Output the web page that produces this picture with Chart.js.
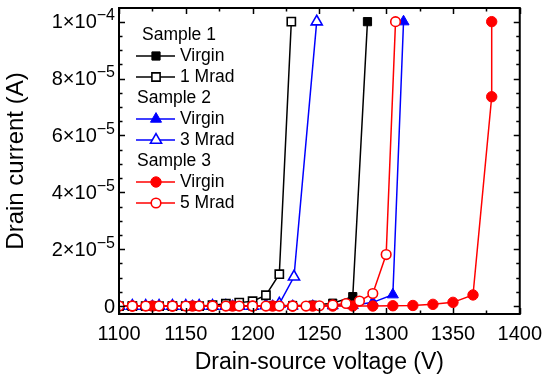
<!DOCTYPE html>
<html>
<head>
<meta charset="utf-8">
<script src="https://cdn.jsdelivr.net/npm/chart.js@4.4.1/dist/chart.umd.min.js"></script>
<style>
  html, body { margin: 0; padding: 0; background: #fff; }
  #wrap { width: 550px; height: 388px; }
</style>
</head>
<body>
<div id="wrap"><canvas id="ivChart" width="550" height="388"></canvas></div>
<script>
// axis ticks
const xTicks = [1100, 1150, 1200, 1250, 1300, 1350, 1400];
const yTicks = [0, 2e-5, 4e-5, 6e-5, 8e-5, 1e-4];
const yTickLabels = ['0', '2×10^−5', '4×10^−5', '6×10^−5', '8×10^−5', '1×10^−4'];

// Sample 1
const s1VirginV = [1110, 1125, 1140, 1155, 1170, 1185, 1200, 1215, 1230, 1245, 1260, 1275, 1286];
const s1VirginI = [0, 0, 0, 0, 0, 0, 0, 0.1e-6, 0.2e-6, 0.3e-6, 1.0e-6, 3.3e-6, 1e-4];
const s1MradV = [1100, 1110, 1120, 1130, 1140, 1150, 1160, 1170, 1180, 1190, 1200, 1210, 1220, 1229];
const s1MradI = [0, 0, 0, 0, 0, 0, 0, 0.3e-6, 0.8e-6, 1.2e-6, 1.7e-6, 3.8e-6, 1.12e-5, 1e-4];

// Sample 2
const s2VirginV = [1110, 1125, 1140, 1155, 1170, 1185, 1200, 1215, 1230, 1245, 1260, 1275, 1290, 1305, 1313];
const s2VirginI = [0, 0, 0, 0, 0, 0, 0, 0, 0, 0, 0.1e-6, 0.2e-6, 1.3e-6, 4.0e-6, 1e-4];
const s2MradV = [1100, 1110, 1120, 1130, 1140, 1150, 1160, 1170, 1180, 1190, 1200, 1210, 1220, 1231, 1248];
const s2MradI = [0, 0, 0, 0, 0, 0, 0, 0, 0, 0, 0, 0.2e-6, 0.8e-6, 1.03e-5, 1e-4];

// Sample 3
const s3VirginV = [1110, 1125, 1140, 1155, 1170, 1185, 1200, 1215, 1230, 1245, 1260, 1275, 1290, 1305, 1320, 1335, 1350, 1365, 1379, 1379];
const s3VirginI = [0, 0, 0, 0, 0, 0, 0, 0, 0, 0, 0, 0, 0, 0.1e-6, 0.2e-6, 0.6e-6, 1.3e-6, 3.9e-6, 7.36e-5, 1e-4];
const s3MradV = [1100, 1110, 1120, 1130, 1140, 1150, 1160, 1170, 1180, 1190, 1200, 1210, 1220, 1230, 1240, 1250, 1260, 1270, 1280, 1290, 1300, 1307];
const s3MradI = [0, 0, 0, 0, 0, 0, 0, 0, 0, 0, 0, 0, 0, 0, 0, 0.1e-6, 0.4e-6, 0.9e-6, 1.75e-6, 4.4e-6, 1.81e-5, 1e-4];

// legend groups
const legendGroups = ['Sample 1', 'Sample 2', 'Sample 3'];
const legendLabels = [['Virgin', '1 Mrad'], ['Virgin', '3 Mrad'], ['Virgin', '5 Mrad']];

const FONT = "'Liberation Sans', Arial, sans-serif";

function pts(xs, ys) {
    return xs.map((x, i) => ({ x: x, y: ys[i] }));
}

function series(label, xs, ys, color, style, open, order) {
    return {
        label: label,
        data: pts(xs, ys),
        borderColor: color,
        borderWidth: 1.5,
        pointStyle: style,
        pointRadius: style === 'circle' ? (open ? 4.8 : 5.2) : (style === 'rect' ? 5.8 : 6.4),
        pointBackgroundColor: open ? '#fff' : color,
        pointBorderColor: color,
        pointBorderWidth: open ? 1.6 : 1,
        tension: 0,
        clip: 0,
        order: order
    };
}

const datasets = [
    series('Sample 1 Virgin', s1VirginV, s1VirginI, '#000000', 'rect', false, 2),
    series('Sample 1 1 Mrad', s1MradV, s1MradI, '#000000', 'rect', true, 3),
    series('Sample 2 Virgin', s2VirginV, s2VirginI, '#0000ff', 'triangle', false, 4),
    series('Sample 2 3 Mrad', s2MradV, s2MradI, '#0000ff', 'triangle', true, 5),
    series('Sample 3 Virgin', s3VirginV, s3VirginI, '#ff0000', 'circle', false, 1),
    series('Sample 3 5 Mrad', s3MradV, s3MradI, '#ff0000', 'circle', true, 0)
];

const framePlugin = {
    id: 'frameTicks',
    afterDatasetsDraw: function (chart) {
        const ctx = chart.ctx;
        const a = chart.chartArea;
        const xs = chart.scales.x;
        const ys = chart.scales.y;
        ctx.save();
        ctx.strokeStyle = '#000';
        ctx.lineWidth = 2;
        ctx.strokeRect(a.left, a.top, a.right - a.left, a.bottom - a.top);

        // inward ticks, x every 25 V
        ctx.lineWidth = 1.5;
        ctx.beginPath();
        for (let v = xs.min; v <= xs.max + 0.1; v += 25) {
            const px = Math.round(xs.getPixelForValue(v)) + 0.5;
            const len = (v % 50 === 0) ? 6 : 3.5;
            ctx.moveTo(px, a.bottom);
            ctx.lineTo(px, a.bottom - len);
            ctx.moveTo(px, a.top);
            ctx.lineTo(px, a.top + len);
        }
        // y every 5e-6
        for (let k = 0; k <= 20; k++) {
            const py = Math.round(ys.getPixelForValue(k * 5e-6)) + 0.5;
            const len = (k % 4 === 0) ? 6 : 3.5;
            ctx.moveTo(a.left, py);
            ctx.lineTo(a.left + len, py);
            ctx.moveTo(a.right, py);
            ctx.lineTo(a.right - len, py);
        }
        ctx.stroke();

        // y tick labels with superscript exponent
        ctx.fillStyle = '#000';
        ctx.textBaseline = 'middle';
        ctx.textAlign = 'right';
        yTicks.forEach(function (v, i) {
            const py = ys.getPixelForValue(v);
            const parts = yTickLabels[i].split('^');
            let right = a.left - 4;
            if (parts.length > 1) {
                ctx.font = '16px ' + FONT;
                ctx.fillText(parts[1], right, py - 6);
                right -= ctx.measureText(parts[1]).width;
            }
            ctx.font = '20px ' + FONT;
            ctx.fillText(parts[0], right, py + 1);
        });

        // legend
        const rowH = 21;
        let y = a.top + 27;
        const groupX = [142, 137, 137];
        legendGroups.forEach(function (g, gi) {
            ctx.textAlign = 'left';
            ctx.font = '17.5px ' + FONT;
            ctx.fillStyle = '#000';
            ctx.fillText(g, groupX[gi], y);
            y += rowH;
            legendLabels[gi].forEach(function (lab, li) {
                const ds = datasets[gi * 2 + li];
                ctx.strokeStyle = ds.borderColor;
                ctx.lineWidth = 1.5;
                ctx.beginPath();
                ctx.moveTo(136, y);
                ctx.lineTo(175, y);
                ctx.stroke();
                ctx.fillStyle = ds.pointBackgroundColor;
                ctx.strokeStyle = ds.pointBorderColor;
                ctx.lineWidth = ds.pointBorderWidth;
                Chart.helpers.drawPoint(ctx, {
                    pointStyle: ds.pointStyle,
                    radius: ds.pointRadius,
                    borderWidth: ds.pointBorderWidth,
                    rotation: 0
                }, 156, y);
                ctx.fillStyle = '#000';
                ctx.font = '17.5px ' + FONT;
                ctx.fillText(lab, 180, y);
                y += rowH;
            });
        });
        ctx.restore();
    }
};

new Chart(document.getElementById('ivChart'), {
    type: 'line',
    data: { datasets: datasets },
    options: {
        responsive: false,
        animation: false,
        devicePixelRatio: 1,
        layout: { padding: { top: 7, right: 27, left: 0, bottom: 0 } },
        plugins: {
            legend: { display: false },
            tooltip: { enabled: false }
        },
        scales: {
            x: {
                type: 'linear',
                min: 1100,
                max: 1400,
                afterBuildTicks: function (s) { s.ticks = xTicks.map(v => ({ value: v })); },
                afterFit: function (s) { s.height = 74; },
                grid: { display: false, drawTicks: false },
                border: { display: false },
                ticks: {
                    color: '#000',
                    font: { size: 20, family: FONT },
                    padding: 8,
                    maxRotation: 0,
                    autoSkip: false,
                    callback: function (v) { return String(v); }
                },
                title: {
                    display: true,
                    text: 'Drain-source voltage (V)',
                    color: '#000',
                    font: { size: 23, family: FONT },
                    padding: { top: 4, bottom: 12 }
                }
            },
            y: {
                type: 'linear',
                min: -2.8e-6,
                max: 1.048e-4,
                afterBuildTicks: function (s) { s.ticks = yTicks.map(v => ({ value: v })); },
                afterFit: function (s) { s.width = 119; },
                grid: { display: false, drawTicks: false },
                border: { display: false },
                ticks: { display: false },
                title: {
                    display: true,
                    text: 'Drain current (A)',
                    color: '#000',
                    font: { size: 24, family: FONT },
                    padding: { top: 2, bottom: 0 }
                }
            }
        }
    },
    plugins: [framePlugin]
});
</script>
</body>
</html>
